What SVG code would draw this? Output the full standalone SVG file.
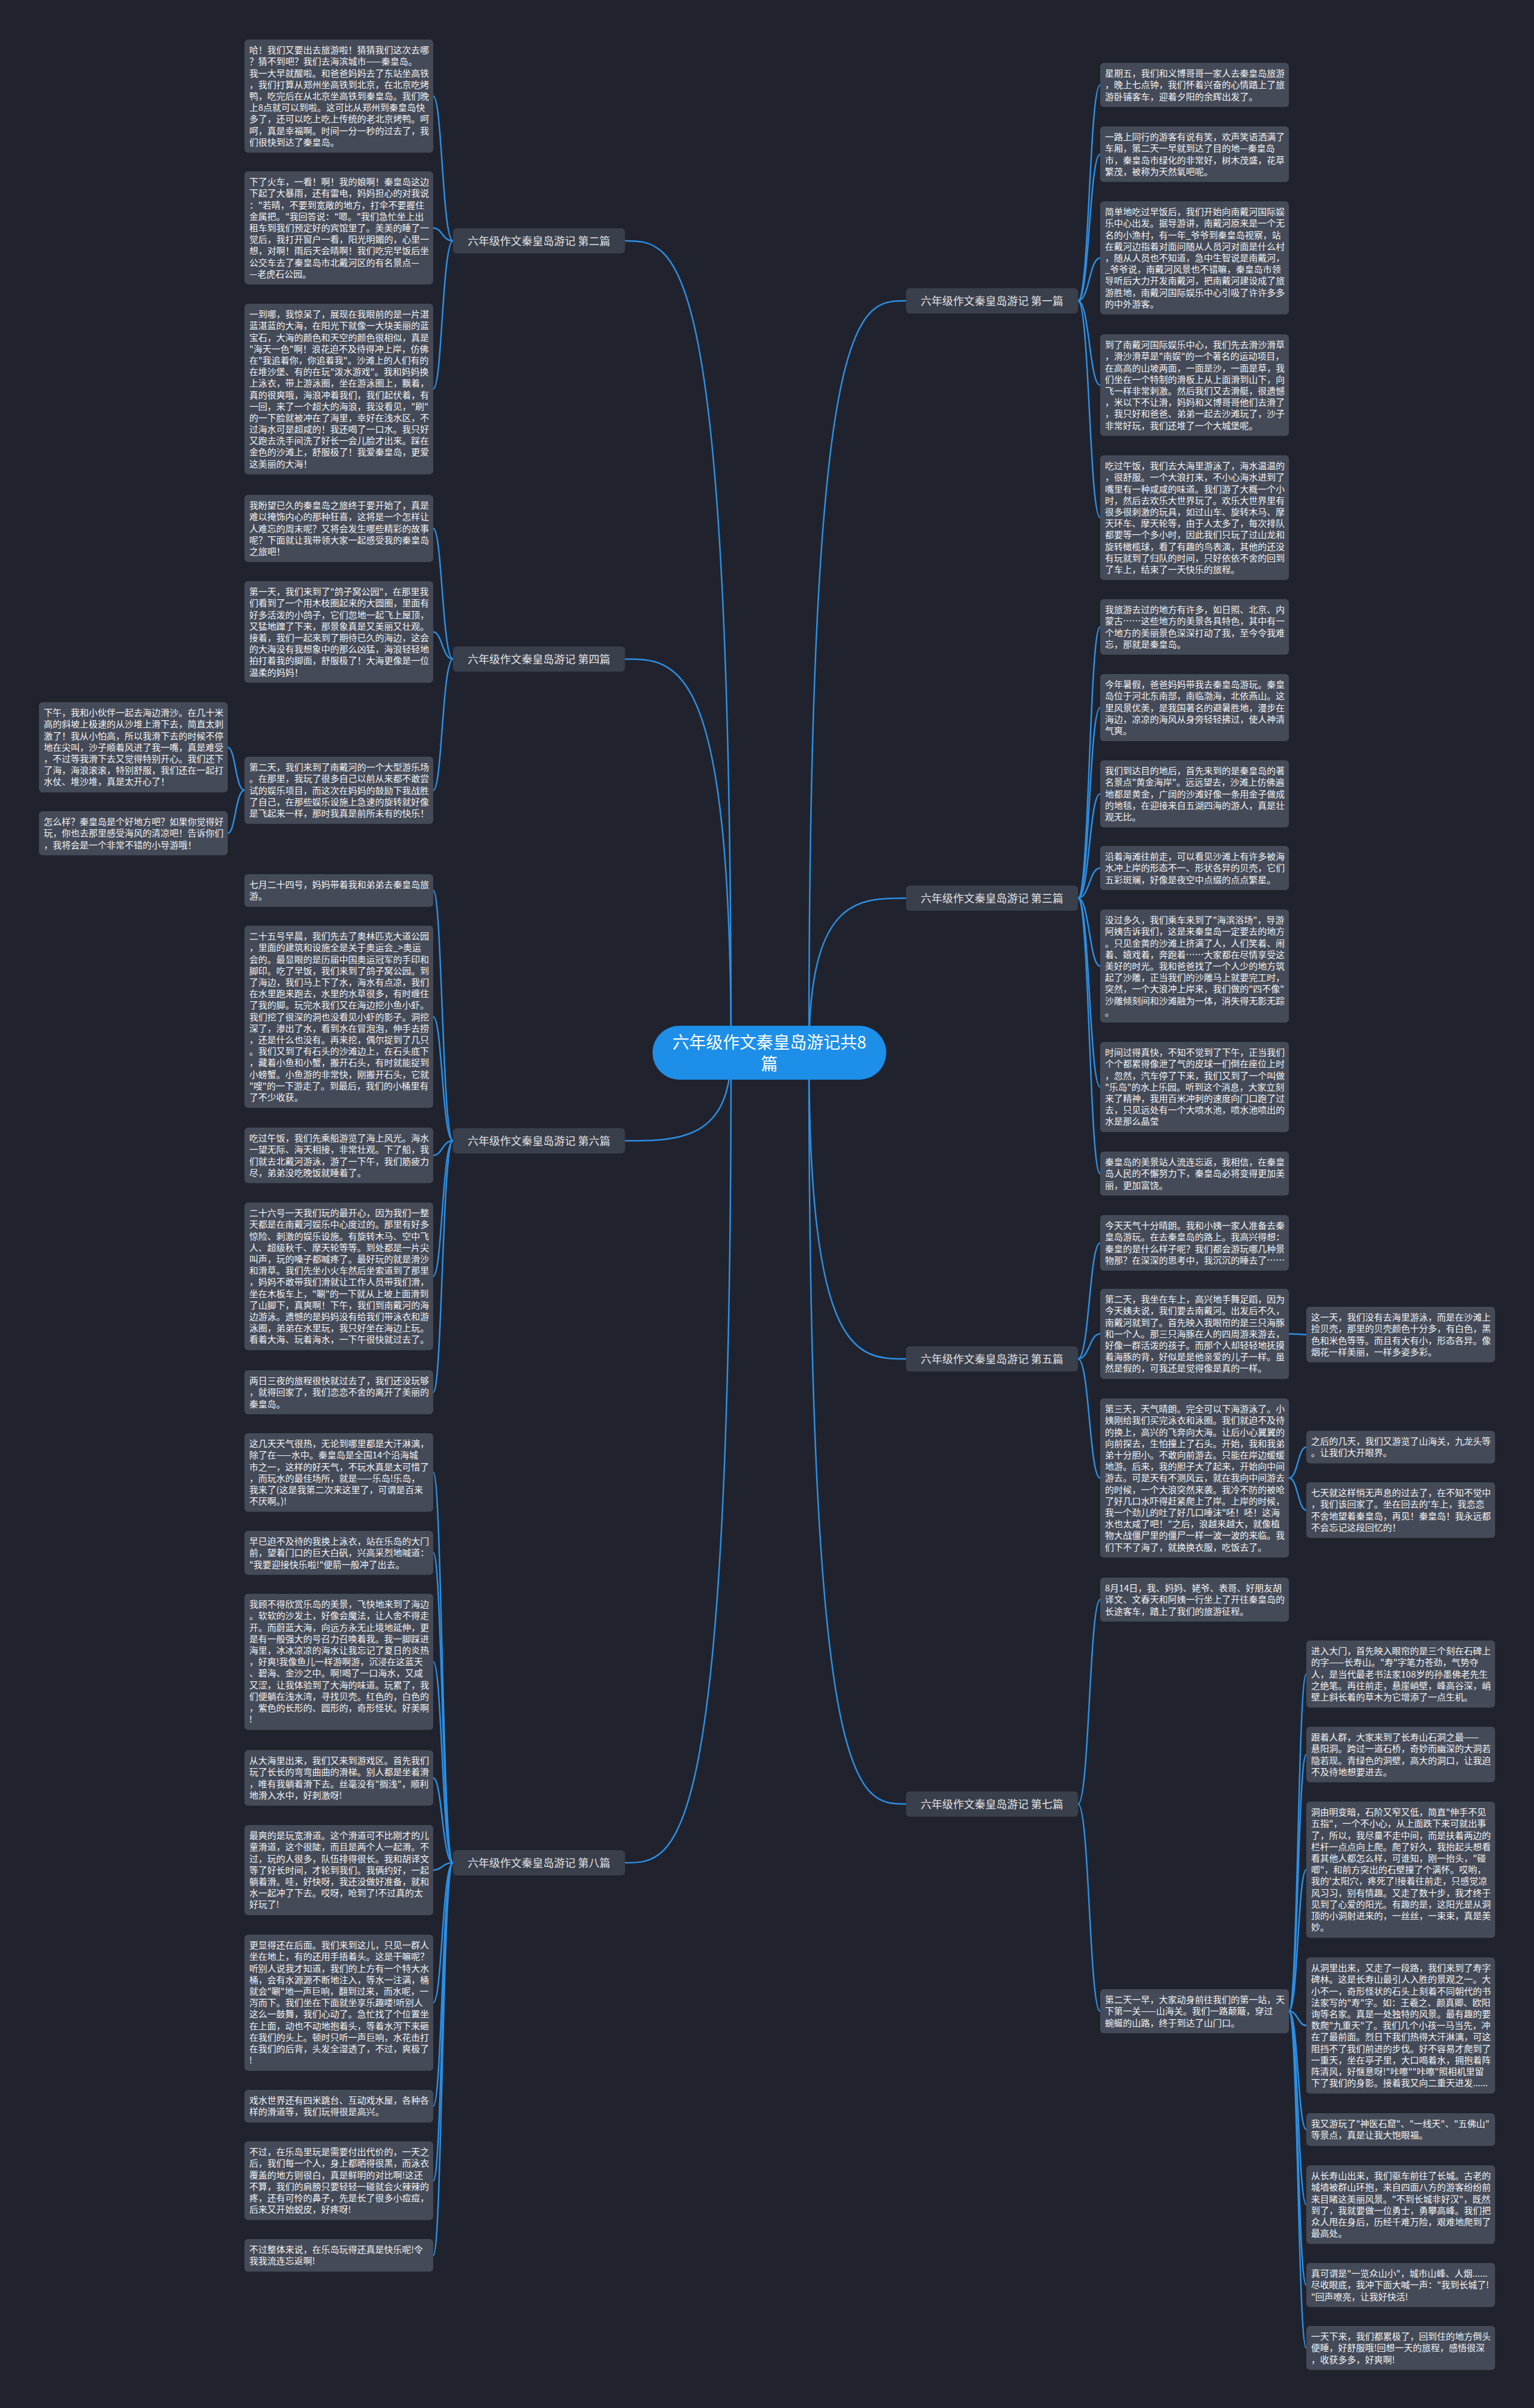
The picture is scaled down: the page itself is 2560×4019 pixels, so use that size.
<svg xmlns="http://www.w3.org/2000/svg" width="2560" height="4019" viewBox="0 0 2560 4019">
<style>
.bg{fill:#20232e}
.leaf rect{fill:#444a58}
.leaf text{font-family:"Noto Sans CJK SC","Noto Sans",sans-serif;font-size:15px;fill:#f4f4f4}
.l1 rect{fill:#3a3f4c}
.l1 text{font-family:"Noto Sans CJK SC","Noto Sans",sans-serif;font-size:18px;fill:#e4e4e4;text-anchor:middle}
.conn path{fill:none;stroke:#2b8fe5;stroke-width:2.5}
.root rect{fill:#1d8fe9}
.root text{font-family:"Noto Sans CJK SC","Noto Sans",sans-serif;font-size:28px;fill:#ffffff;text-anchor:middle}
</style>
<rect class="bg" x="0" y="0" width="2560" height="4019"/>
<g id="connectors" class="conn">
<path d="M1220 1757 C1220 402 1131 402 1043 402"/>
<path d="M1220 1757 C1220 1100 1131 1100 1043 1100"/>
<path d="M1220 1757 C1220 1904 1131 1904 1043 1904"/>
<path d="M1220 1757 C1220 3109 1131 3109 1043 3109"/>
<path d="M1350 1757 C1350 502 1431 502 1512 502"/>
<path d="M1350 1757 C1350 1499 1431 1499 1512 1499"/>
<path d="M1350 1757 C1350 2268 1431 2268 1512 2268"/>
<path d="M1350 1757 C1350 3011 1431 3011 1512 3011"/>
<path d="M756 402 C738 402 738 160.4 723 160.4"/>
<path d="M756 402 C738 402 738 380.4 723 380.4"/>
<path d="M756 402 C738 402 738 649.4 723 649.4"/>
<path d="M756 1100 C738 1100 738 882 723 882"/>
<path d="M756 1100 C738 1100 738 1054.8 723 1054.8"/>
<path d="M756 1100 C738 1100 738 1319 723 1319"/>
<path d="M408 1319 C393 1319 393 1247.2 380 1247.2"/>
<path d="M408 1319 C393 1319 393 1390.8 380 1390.8"/>
<path d="M756 1904 C738 1904 738 1486.2 723 1486.2"/>
<path d="M756 1904 C738 1904 738 1697 723 1697"/>
<path d="M756 1904 C738 1904 738 1928.4 723 1928.4"/>
<path d="M756 1904 C738 1904 738 2130.2 723 2130.2"/>
<path d="M756 1904 C738 1904 738 2323.8 723 2323.8"/>
<path d="M756 3109 C738 3109 738 2457.6 723 2457.6"/>
<path d="M756 3109 C738 3109 738 2591.8 723 2591.8"/>
<path d="M756 3109 C738 3109 738 2773.6 723 2773.6"/>
<path d="M756 3109 C738 3109 738 2967.4 723 2967.4"/>
<path d="M756 3109 C738 3109 738 3121.2 723 3121.2"/>
<path d="M756 3109 C738 3109 738 3342.6 723 3342.6"/>
<path d="M756 3109 C738 3109 738 3515.2 723 3515.2"/>
<path d="M756 3109 C738 3109 738 3639.6 723 3639.6"/>
<path d="M756 3109 C738 3109 738 3764.2 723 3764.2"/>
<path d="M1799 502 C1818 502 1818 141.8 1836 141.8"/>
<path d="M1799 502 C1818 502 1818 257.4 1836 257.4"/>
<path d="M1799 502 C1818 502 1818 430.4 1836 430.4"/>
<path d="M1799 502 C1818 502 1818 642.8 1836 642.8"/>
<path d="M1799 502 C1818 502 1818 864 1836 864"/>
<path d="M1799 1499 C1818 1499 1818 1046.4 1836 1046.4"/>
<path d="M1799 1499 C1818 1499 1818 1181 1836 1181"/>
<path d="M1799 1499 C1818 1499 1818 1325 1836 1325"/>
<path d="M1799 1499 C1818 1499 1818 1448.8 1836 1448.8"/>
<path d="M1799 1499 C1818 1499 1818 1612.4 1836 1612.4"/>
<path d="M1799 1499 C1818 1499 1818 1814.2 1836 1814.2"/>
<path d="M1799 1499 C1818 1499 1818 1958.8 1836 1958.8"/>
<path d="M1799 2268 C1818 2268 1818 2074.4 1836 2074.4"/>
<path d="M1799 2268 C1818 2268 1818 2226.2 1836 2226.2"/>
<path d="M1799 2268 C1818 2268 1818 2466.8 1836 2466.8"/>
<path d="M1799 3011 C1818 3011 1818 2669.8 1836 2669.8"/>
<path d="M1799 3011 C1818 3011 1818 3356.8 1836 3356.8"/>
<path d="M2151 2226.2 C2166 2226.2 2166 2227.4 2180 2227.4"/>
<path d="M2151 2466.8 C2166 2466.8 2166 2415.2 2180 2415.2"/>
<path d="M2151 2466.8 C2166 2466.8 2166 2520.4 2180 2520.4"/>
<path d="M2151 3356.8 C2166 3356.8 2166 2794 2180 2794"/>
<path d="M2151 3356.8 C2166 3356.8 2166 2928.4 2180 2928.4"/>
<path d="M2151 3356.8 C2166 3356.8 2166 3120.6 2180 3120.6"/>
<path d="M2151 3356.8 C2166 3356.8 2166 3380.6 2180 3380.6"/>
<path d="M2151 3356.8 C2166 3356.8 2166 3554.2 2180 3554.2"/>
<path d="M2151 3356.8 C2166 3356.8 2166 3679.6 2180 3679.6"/>
<path d="M2151 3356.8 C2166 3356.8 2166 3813.8 2180 3813.8"/>
<path d="M2151 3356.8 C2166 3356.8 2166 3918.8 2180 3918.8"/>
</g>
<g id="root" class="root"><rect x="1089" y="1712" width="390" height="90" rx="45"/><text x="1284" y="1749.6">六年级作文秦皇岛游记共8<tspan x="1284" dy="36">篇</tspan></text></g>
<g id="b2" class="l1"><rect x="756" y="381" width="287" height="42" rx="6"/><text x="899.5" y="408.5">六年级作文秦皇岛游记 第二篇</text></g>
<g id="b4" class="l1"><rect x="756" y="1079" width="287" height="42" rx="6"/><text x="899.5" y="1106.5">六年级作文秦皇岛游记 第四篇</text></g>
<g id="b6" class="l1"><rect x="756" y="1883" width="287" height="42" rx="6"/><text x="899.5" y="1910.5">六年级作文秦皇岛游记 第六篇</text></g>
<g id="b8" class="l1"><rect x="756" y="3088" width="287" height="42" rx="6"/><text x="899.5" y="3115.5">六年级作文秦皇岛游记 第八篇</text></g>
<g id="b1" class="l1"><rect x="1512" y="481" width="287" height="42" rx="6"/><text x="1655.5" y="508.5">六年级作文秦皇岛游记 第一篇</text></g>
<g id="b3" class="l1"><rect x="1512" y="1478" width="287" height="42" rx="6"/><text x="1655.5" y="1505.5">六年级作文秦皇岛游记 第三篇</text></g>
<g id="b5" class="l1"><rect x="1512" y="2247" width="287" height="42" rx="6"/><text x="1655.5" y="2274.5">六年级作文秦皇岛游记 第五篇</text></g>
<g id="b7" class="l1"><rect x="1512" y="2990" width="287" height="42" rx="6"/><text x="1655.5" y="3017.5">六年级作文秦皇岛游记 第七篇</text></g>

<g id="a1" class="leaf"><rect x="408" y="66" width="315" height="188.8" rx="6"/><text x="416" y="89.1"><tspan x="416">哈！我们又要出去旅游啦！猜猜我们这次去哪</tspan><tspan x="416" dy="19.2">？猜不到吧？我们去海滨城市——秦皇岛。</tspan><tspan x="416" dy="19.2">我一大早就醒啦。和爸爸妈妈去了东站坐高铁</tspan><tspan x="416" dy="19.2">，我们打算从郑州坐高铁到北京，在北京吃烤</tspan><tspan x="416" dy="19.2">鸭，吃完后在从北京坐高铁到秦皇岛。我们晚</tspan><tspan x="416" dy="19.2">上8点就可以到啦。这可比从郑州到秦皇岛快</tspan><tspan x="416" dy="19.2">多了，还可以吃上吃上传统的老北京烤鸭。呵</tspan><tspan x="416" dy="19.2">呵，真是幸福啊。时间一分一秒的过去了，我</tspan><tspan x="416" dy="19.2">们很快到达了秦皇岛。</tspan></text></g>
<g id="a2" class="leaf"><rect x="408" y="286" width="315" height="188.8" rx="6"/><text x="416" y="309.1"><tspan x="416">下了火车，一看！啊！我的娘啊！秦皇岛这边</tspan><tspan x="416" dy="19.2">下起了大暴雨，还有雷电，妈妈担心的对我说</tspan><tspan x="416" dy="19.2">："若晴，不要到宽敞的地方，打伞不要握住</tspan><tspan x="416" dy="19.2">金属把。"我回答说："嗯。"我们急忙坐上出</tspan><tspan x="416" dy="19.2">租车到我们预定好的宾馆里了。美美的睡了一</tspan><tspan x="416" dy="19.2">觉后，我打开窗户一看，阳光明媚的，心里一</tspan><tspan x="416" dy="19.2">想，对啊！雨后天会晴啊！我们吃完早饭后坐</tspan><tspan x="416" dy="19.2">公交车去了秦皇岛市北戴河区的有名景点—</tspan><tspan x="416" dy="19.2">—老虎石公园。</tspan></text></g>
<g id="a3" class="leaf"><rect x="408" y="507" width="315" height="284.8" rx="6"/><text x="416" y="530.1"><tspan x="416">一到哪，我惊呆了，展现在我眼前的是一片湛</tspan><tspan x="416" dy="19.2">蓝湛蓝的大海，在阳光下就像一大块美丽的蓝</tspan><tspan x="416" dy="19.2">宝石，大海的颜色和天空的颜色很相似，真是</tspan><tspan x="416" dy="19.2">"海天一色"啊！浪花迫不及待得冲上岸，仿佛</tspan><tspan x="416" dy="19.2">在"我追着你，你追着我"。沙滩上的人们有的</tspan><tspan x="416" dy="19.2">在堆沙堡、有的在玩"泼水游戏"。我和妈妈换</tspan><tspan x="416" dy="19.2">上泳衣，带上游泳圈，坐在游泳圈上，飘着，</tspan><tspan x="416" dy="19.2">真的很爽哦，海浪冲着我们，我们起伏着，有</tspan><tspan x="416" dy="19.2">一回，来了一个超大的海浪，我没看见，"刷"</tspan><tspan x="416" dy="19.2">的一下脸就被冲在了海里，幸好在浅水区，不</tspan><tspan x="416" dy="19.2">过海水可是超咸的！我还喝了一口水。我只好</tspan><tspan x="416" dy="19.2">又跑去洗手间洗了好长一会儿脸才出来。踩在</tspan><tspan x="416" dy="19.2">金色的沙滩上，舒服极了！我爱秦皇岛，更爱</tspan><tspan x="416" dy="19.2">这美丽的大海！</tspan></text></g>
<g id="b4c1" class="leaf"><rect x="408" y="826" width="315" height="112" rx="6"/><text x="416" y="849.1"><tspan x="416">我盼望已久的秦皇岛之旅终于要开始了，真是</tspan><tspan x="416" dy="19.2">难以掩饰内心的那种狂喜，这将是一个怎样让</tspan><tspan x="416" dy="19.2">人难忘的周末呢？又将会发生哪些精彩的故事</tspan><tspan x="416" dy="19.2">呢？下面就让我带领大家一起感受我的秦皇岛</tspan><tspan x="416" dy="19.2">之旅吧！</tspan></text></g>
<g id="b4c2" class="leaf"><rect x="408" y="970" width="315" height="169.6" rx="6"/><text x="416" y="993.1"><tspan x="416">第一天，我们来到了"鸽子窝公园"，在那里我</tspan><tspan x="416" dy="19.2">们看到了一个用木枝圈起来的大圆圈，里面有</tspan><tspan x="416" dy="19.2">好多活泼的小鸽子，它们忽地一起飞上屋顶，</tspan><tspan x="416" dy="19.2">又猛地蹿了下来，那景象真是又美丽又壮观。</tspan><tspan x="416" dy="19.2">接着，我们一起来到了期待已久的海边，这会</tspan><tspan x="416" dy="19.2">的大海没有我想象中的那么凶猛，海浪轻轻地</tspan><tspan x="416" dy="19.2">拍打着我的脚面，舒服极了！大海更像是一位</tspan><tspan x="416" dy="19.2">温柔的妈妈！</tspan></text></g>
<g id="b4c3" class="leaf"><rect x="408" y="1263" width="315" height="112" rx="6"/><text x="416" y="1286.1"><tspan x="416">第二天，我们来到了南戴河的一个大型游乐场</tspan><tspan x="416" dy="19.2">。在那里，我玩了很多自己以前从来都不敢尝</tspan><tspan x="416" dy="19.2">试的娱乐项目，而这次在妈妈的鼓励下我战胜</tspan><tspan x="416" dy="19.2">了自己，在那些娱乐设施上急速的旋转就好像</tspan><tspan x="416" dy="19.2">是飞起来一样，那时我真是前所未有的快乐！</tspan></text></g>
<g id="e1" class="leaf"><rect x="65" y="1172" width="315" height="150.4" rx="6"/><text x="73" y="1195.1"><tspan x="73">下午，我和小伙伴一起去海边滑沙。在几十米</tspan><tspan x="73" dy="19.2">高的斜坡上极速的从沙堆上滑下去，简直太刺</tspan><tspan x="73" dy="19.2">激了！我从小怕高，所以我滑下去的时候不停</tspan><tspan x="73" dy="19.2">地在尖叫，沙子顺着风进了我一嘴，真是难受</tspan><tspan x="73" dy="19.2">，不过等我滑下去又觉得特别开心。我们还下</tspan><tspan x="73" dy="19.2">了海，海浪滚滚，特别舒服，我们还在一起打</tspan><tspan x="73" dy="19.2">水仗、堆沙堆，真是太开心了！</tspan></text></g>
<g id="e2" class="leaf"><rect x="65" y="1354" width="315" height="73.6" rx="6"/><text x="73" y="1377.1"><tspan x="73">怎么样？秦皇岛是个好地方吧？如果你觉得好</tspan><tspan x="73" dy="19.2">玩，你也去那里感受海风的清凉吧！告诉你们</tspan><tspan x="73" dy="19.2">，我将会是一个非常不错的小导游哦！</tspan></text></g>
<g id="c1" class="leaf"><rect x="408" y="1459" width="315" height="54.4" rx="6"/><text x="416" y="1482.1"><tspan x="416">七月二十四号，妈妈带着我和弟弟去秦皇岛旅</tspan><tspan x="416" dy="19.2">游。</tspan></text></g>
<g id="c2" class="leaf"><rect x="408" y="1545" width="315" height="304" rx="6"/><text x="416" y="1568.1"><tspan x="416">二十五号早晨，我们先去了奥林匹克大道公园</tspan><tspan x="416" dy="19.2">，里面的建筑和设施全是关于奥运会_&gt;奥运</tspan><tspan x="416" dy="19.2">会的。最显眼的是历届中国奥运冠军的手印和</tspan><tspan x="416" dy="19.2">脚印。吃了早饭，我们来到了鸽子窝公园。到</tspan><tspan x="416" dy="19.2">了海边，我们马上下了水，海水有点凉，我们</tspan><tspan x="416" dy="19.2">在水里跑来跑去，水里的水草很多，有时缠住</tspan><tspan x="416" dy="19.2">了我的脚。玩完水我们又在海边挖小鱼小虾。</tspan><tspan x="416" dy="19.2">我们挖了很深的洞也没看见小虾的影子。洞挖</tspan><tspan x="416" dy="19.2">深了，渗出了水，看到水在冒泡泡，伸手去捞</tspan><tspan x="416" dy="19.2">，还是什么也没有。再来挖，偶尔捉到了几只</tspan><tspan x="416" dy="19.2">。我们又到了有石头的沙滩边上，在石头底下</tspan><tspan x="416" dy="19.2">，藏着小鱼和小蟹，搬开石头，有时就能捉到</tspan><tspan x="416" dy="19.2">小螃蟹。小鱼游的非常快，刚搬开石头，它就</tspan><tspan x="416" dy="19.2">"嗖"的一下游走了。到最后，我们的小桶里有</tspan><tspan x="416" dy="19.2">了不少收获。</tspan></text></g>
<g id="c3" class="leaf"><rect x="408" y="1882" width="315" height="92.8" rx="6"/><text x="416" y="1905.1"><tspan x="416">吃过午饭，我们先乘船游览了海上风光。海水</tspan><tspan x="416" dy="19.2">一望无际、海天相接，非常壮观。下了船，我</tspan><tspan x="416" dy="19.2">们就去北戴河游泳，游了一下午，我们筋疲力</tspan><tspan x="416" dy="19.2">尽，弟弟没吃晚饭就睡着了。</tspan></text></g>
<g id="c4" class="leaf"><rect x="408" y="2007" width="315" height="246.4" rx="6"/><text x="416" y="2030.1"><tspan x="416">二十六号一天我们玩的最开心，因为我们一整</tspan><tspan x="416" dy="19.2">天都是在南戴河娱乐中心度过的。那里有好多</tspan><tspan x="416" dy="19.2">惊险、刺激的娱乐设施。有旋转木马、空中飞</tspan><tspan x="416" dy="19.2">人、超级秋千、摩天轮等等。到处都是一片尖</tspan><tspan x="416" dy="19.2">叫声，玩的嗓子都喊疼了。最好玩的就是滑沙</tspan><tspan x="416" dy="19.2">和滑草。我们先坐小火车然后坐索道到了那里</tspan><tspan x="416" dy="19.2">，妈妈不敢带我们滑就让工作人员带我们滑，</tspan><tspan x="416" dy="19.2">坐在木板车上，"唰"的一下就从上坡上面滑到</tspan><tspan x="416" dy="19.2">了山脚下，真爽啊！下午，我们到南戴河的海</tspan><tspan x="416" dy="19.2">边游泳。遗憾的是妈妈没有给我们带泳衣和游</tspan><tspan x="416" dy="19.2">泳圈，弟弟在水里玩，我只好坐在海边上玩。</tspan><tspan x="416" dy="19.2">看着大海、玩着海水，一下午很快就过去了。</tspan></text></g>
<g id="c5" class="leaf"><rect x="408" y="2287" width="315" height="73.6" rx="6"/><text x="416" y="2310.1"><tspan x="416">两日三夜的旅程很快就过去了，我们还没玩够</tspan><tspan x="416" dy="19.2">，就得回家了，我们恋恋不舍的离开了美丽的</tspan><tspan x="416" dy="19.2">秦皇岛。</tspan></text></g>
<g id="d1" class="leaf"><rect x="408" y="2392" width="315" height="131.2" rx="6"/><text x="416" y="2415.1"><tspan x="416">这几天天气很热，无论到哪里都是大汗淋漓，</tspan><tspan x="416" dy="19.2">除了在——水中。秦皇岛是全国14个沿海城</tspan><tspan x="416" dy="19.2">市之一，这样的好天气，不玩水真是太可惜了</tspan><tspan x="416" dy="19.2">，而玩水的最佳场所，就是——乐岛!乐岛，</tspan><tspan x="416" dy="19.2">我来了(这是我第二次来这里了，可谓是百来</tspan><tspan x="416" dy="19.2">不厌啊。)!</tspan></text></g>
<g id="d2" class="leaf"><rect x="408" y="2555" width="315" height="73.6" rx="6"/><text x="416" y="2578.1"><tspan x="416">早已迫不及待的我换上泳衣，站在乐岛的大门</tspan><tspan x="416" dy="19.2">前，望着门口的巨大白矾，兴高采烈地喊道：</tspan><tspan x="416" dy="19.2">"我要迎接快乐啦!"便箭一般冲了出去。</tspan></text></g>
<g id="d3" class="leaf"><rect x="408" y="2660" width="315" height="227.2" rx="6"/><text x="416" y="2683.1"><tspan x="416">我顾不得欣赏乐岛的美景，飞快地来到了海边</tspan><tspan x="416" dy="19.2">。软软的沙发土，好像会魔法，让人舍不得走</tspan><tspan x="416" dy="19.2">开。而蔚蓝大海，向远方永无止境地延伸，更</tspan><tspan x="416" dy="19.2">是有一般强大的号召力召唤着我。我一脚踩进</tspan><tspan x="416" dy="19.2">海里，冰冰凉凉的海水让我忘记了夏日的炎热</tspan><tspan x="416" dy="19.2">，好爽!我像鱼儿一样游啊游，沉浸在这蓝天</tspan><tspan x="416" dy="19.2">、碧海、金沙之中。啊!喝了一口海水，又咸</tspan><tspan x="416" dy="19.2">又涩，让我体验到了大海的味道。玩累了，我</tspan><tspan x="416" dy="19.2">们便躺在浅水湾，寻找贝壳。红色的，白色的</tspan><tspan x="416" dy="19.2">，紫色的长形的、圆形的，奇形怪状。好美啊</tspan><tspan x="416" dy="19.2">!</tspan></text></g>
<g id="d4" class="leaf"><rect x="408" y="2921" width="315" height="92.8" rx="6"/><text x="416" y="2944.1"><tspan x="416">从大海里出来，我们又来到游戏区。首先我们</tspan><tspan x="416" dy="19.2">玩了长长的弯弯曲曲的滑梯。别人都是坐着滑</tspan><tspan x="416" dy="19.2">，唯有我躺着滑下去。丝毫没有"搁浅"，顺利</tspan><tspan x="416" dy="19.2">地滑入水中，好刺激呀!</tspan></text></g>
<g id="d5" class="leaf"><rect x="408" y="3046" width="315" height="150.4" rx="6"/><text x="416" y="3069.1"><tspan x="416">最爽的是玩宽滑道。这个滑道可不比刚才的儿</tspan><tspan x="416" dy="19.2">童滑道，这个很陡，而且是两个人一起滑。不</tspan><tspan x="416" dy="19.2">过，玩的人很多，队伍排得很长。我和胡译文</tspan><tspan x="416" dy="19.2">等了好长时间，才轮到我们。我俩约好，一起</tspan><tspan x="416" dy="19.2">躺着滑。哇，好快呀，我还没做好准备，就和</tspan><tspan x="416" dy="19.2">水一起冲了下去。哎呀，呛到了!不过真的太</tspan><tspan x="416" dy="19.2">好玩了!</tspan></text></g>
<g id="d6" class="leaf"><rect x="408" y="3229" width="315" height="227.2" rx="6"/><text x="416" y="3252.1"><tspan x="416">更显得还在后面。我们来到这儿，只见一群人</tspan><tspan x="416" dy="19.2">坐在地上，有的还用手捂着头。这是干嘛呢？</tspan><tspan x="416" dy="19.2">听别人说我才知道，我们的上方有一个特大水</tspan><tspan x="416" dy="19.2">桶，会有水源源不断地注入，等水一注满，桶</tspan><tspan x="416" dy="19.2">就会"唰"地一声巨响，翻到过来，而水呢，一</tspan><tspan x="416" dy="19.2">泻而下。我们坐在下面就坐享乐趣喽!听别人</tspan><tspan x="416" dy="19.2">这么一鼓舞，我们心动了。急忙找了个位置坐</tspan><tspan x="416" dy="19.2">在上面，动也不动地抱着头，等着水泻下来砸</tspan><tspan x="416" dy="19.2">在我们的头上。顿时只听一声巨响，水花击打</tspan><tspan x="416" dy="19.2">在我们的后背，头发全湿透了，不过，爽极了</tspan><tspan x="416" dy="19.2">!</tspan></text></g>
<g id="d7" class="leaf"><rect x="408" y="3488" width="315" height="54.4" rx="6"/><text x="416" y="3511.1"><tspan x="416">戏水世界还有四米跳台、互动戏水屋，各种各</tspan><tspan x="416" dy="19.2">样的滑道等，我们玩得很是高兴。</tspan></text></g>
<g id="d8" class="leaf"><rect x="408" y="3574" width="315" height="131.2" rx="6"/><text x="416" y="3597.1"><tspan x="416">不过，在乐岛里玩是需要付出代价的，一天之</tspan><tspan x="416" dy="19.2">后，我们每一个人，身上都晒得很黑，而泳衣</tspan><tspan x="416" dy="19.2">覆盖的地方则很白，真是鲜明的对比啊!这还</tspan><tspan x="416" dy="19.2">不算，我们的肩膀只要轻轻一碰就会火辣辣的</tspan><tspan x="416" dy="19.2">疼，还有可怜的鼻子，先是长了很多小痘痘，</tspan><tspan x="416" dy="19.2">后来又开始蜕皮，好疼呀!</tspan></text></g>
<g id="d9" class="leaf"><rect x="408" y="3737" width="315" height="54.4" rx="6"/><text x="416" y="3760.1"><tspan x="416">不过整体来说，在乐岛玩得还真是快乐呢!令</tspan><tspan x="416" dy="19.2">我我流连忘返啊!</tspan></text></g>

<g id="r1" class="leaf"><rect x="1836" y="105" width="315" height="73.6" rx="6"/><text x="1844" y="128.1"><tspan x="1844">星期五，我们和义博哥哥一家人去秦皇岛旅游</tspan><tspan x="1844" dy="19.2">，晚上七点钟，我们怀着兴奋的心情踏上了旅</tspan><tspan x="1844" dy="19.2">游卧铺客车，迎着夕阳的余辉出发了。</tspan></text></g>
<g id="r2" class="leaf"><rect x="1836" y="211" width="315" height="92.8" rx="6"/><text x="1844" y="234.1"><tspan x="1844">一路上同行的游客有说有笑，欢声笑语洒满了</tspan><tspan x="1844" dy="19.2">车厢，第二天一早就到达了目的地—秦皇岛</tspan><tspan x="1844" dy="19.2">市，秦皇岛市绿化的非常好，树木茂盛，花草</tspan><tspan x="1844" dy="19.2">繁茂，被称为天然氧吧呢。</tspan></text></g>
<g id="r3" class="leaf"><rect x="1836" y="336" width="315" height="188.8" rx="6"/><text x="1844" y="359.1"><tspan x="1844">简单地吃过早饭后，我们开始向南戴河国际娱</tspan><tspan x="1844" dy="19.2">乐中心出发。据导游讲，南戴河原来是一个无</tspan><tspan x="1844" dy="19.2">名的小渔村，有一年_爷爷到秦皇岛视察，站</tspan><tspan x="1844" dy="19.2">在戴河边指着对面问随从人员河对面是什么村</tspan><tspan x="1844" dy="19.2">，随从人员也不知道，急中生智说是南戴河，</tspan><tspan x="1844" dy="19.2">_爷爷说，南戴河风景也不错嘛，秦皇岛市领</tspan><tspan x="1844" dy="19.2">导听后大力开发南戴河，把南戴河建设成了旅</tspan><tspan x="1844" dy="19.2">游胜地，南戴河国际娱乐中心引吸了许许多多</tspan><tspan x="1844" dy="19.2">的中外游客。</tspan></text></g>
<g id="r4" class="leaf"><rect x="1836" y="558" width="315" height="169.6" rx="6"/><text x="1844" y="581.1"><tspan x="1844">到了南戴河国际娱乐中心，我们先去滑沙滑草</tspan><tspan x="1844" dy="19.2">，滑沙滑草是"南娱"的一个著名的运动项目，</tspan><tspan x="1844" dy="19.2">在高高的山坡两面，一面是沙，一面是草，我</tspan><tspan x="1844" dy="19.2">们坐在一个特制的滑板上从上面滑到山下，向</tspan><tspan x="1844" dy="19.2">飞一样非常刺激。然后我们又去滑艇，很遗憾</tspan><tspan x="1844" dy="19.2">，米以下不让滑，妈妈和义博哥哥他们去滑了</tspan><tspan x="1844" dy="19.2">，我只好和爸爸、弟弟一起去沙滩玩了，沙子</tspan><tspan x="1844" dy="19.2">非常好玩，我们还堆了一个大城堡呢。</tspan></text></g>
<g id="r5" class="leaf"><rect x="1836" y="760" width="315" height="208" rx="6"/><text x="1844" y="783.1"><tspan x="1844">吃过午饭，我们去大海里游泳了，海水温温的</tspan><tspan x="1844" dy="19.2">，很舒服。一个大浪打来，不小心海水进到了</tspan><tspan x="1844" dy="19.2">嘴里有一种咸咸的味道。我们游了大概一个小</tspan><tspan x="1844" dy="19.2">时，然后去欢乐大世界玩了。欢乐大世界里有</tspan><tspan x="1844" dy="19.2">很多很刺激的玩具，如过山车、旋转木马、摩</tspan><tspan x="1844" dy="19.2">天环车、摩天轮等，由于人太多了，每次排队</tspan><tspan x="1844" dy="19.2">都要等一个多小时，因此我们只玩了过山龙和</tspan><tspan x="1844" dy="19.2">旋转橄榄球，看了有趣的鸟表演，其他的还没</tspan><tspan x="1844" dy="19.2">有玩就到了归队的时间，只好依依不舍的回到</tspan><tspan x="1844" dy="19.2">了车上，结束了一天快乐的旅程。</tspan></text></g>
<g id="r6" class="leaf"><rect x="1836" y="1000" width="315" height="92.8" rx="6"/><text x="1844" y="1023.1"><tspan x="1844">我旅游去过的地方有许多，如日照、北京、内</tspan><tspan x="1844" dy="19.2">蒙古……这些地方的美景各具特色，其中有一</tspan><tspan x="1844" dy="19.2">个地方的美丽景色深深打动了我，至今令我难</tspan><tspan x="1844" dy="19.2">忘，那就是秦皇岛。</tspan></text></g>
<g id="r7" class="leaf"><rect x="1836" y="1125" width="315" height="112" rx="6"/><text x="1844" y="1148.1"><tspan x="1844">今年暑假，爸爸妈妈带我去秦皇岛游玩。秦皇</tspan><tspan x="1844" dy="19.2">岛位于河北东南部，南临渤海，北依燕山。这</tspan><tspan x="1844" dy="19.2">里风景优美，是我国著名的避暑胜地，漫步在</tspan><tspan x="1844" dy="19.2">海边，凉凉的海风从身旁轻轻拂过，使人神清</tspan><tspan x="1844" dy="19.2">气爽。</tspan></text></g>
<g id="r8" class="leaf"><rect x="1836" y="1269" width="315" height="112" rx="6"/><text x="1844" y="1292.1"><tspan x="1844">我们到达目的地后，首先来到的是秦皇岛的著</tspan><tspan x="1844" dy="19.2">名景点"黄金海岸"。远远望去，沙滩上仿佛遍</tspan><tspan x="1844" dy="19.2">地都是黄金，广阔的沙滩好像一条用金子做成</tspan><tspan x="1844" dy="19.2">的地毯，在迎接来自五湖四海的游人，真是壮</tspan><tspan x="1844" dy="19.2">观无比。</tspan></text></g>
<g id="r9" class="leaf"><rect x="1836" y="1412" width="315" height="73.6" rx="6"/><text x="1844" y="1435.1"><tspan x="1844">沿着海滩往前走，可以看见沙滩上有许多被海</tspan><tspan x="1844" dy="19.2">水冲上岸的形态不一、形状各异的贝壳，它们</tspan><tspan x="1844" dy="19.2">五彩斑斓，好像是夜空中点缀的点点繁星。</tspan></text></g>
<g id="r10" class="leaf"><rect x="1836" y="1518" width="315" height="188.8" rx="6"/><text x="1844" y="1541.1"><tspan x="1844">没过多久，我们乘车来到了"海滨浴场"，导游</tspan><tspan x="1844" dy="19.2">阿姨告诉我们，这是来秦皇岛一定要去的地方</tspan><tspan x="1844" dy="19.2">。只见金黄的沙滩上挤满了人，人们笑着、闹</tspan><tspan x="1844" dy="19.2">着、嬉戏着，奔跑着……大家都在尽情享受这</tspan><tspan x="1844" dy="19.2">美好的时光。我和爸爸找了一个人少的地方筑</tspan><tspan x="1844" dy="19.2">起了沙雕，正当我们的沙雕马上就要完工时，</tspan><tspan x="1844" dy="19.2">突然，一个大浪冲上岸来，我们做的"四不像"</tspan><tspan x="1844" dy="19.2">沙雕倾刻间和沙滩融为一体，消失得无影无踪</tspan><tspan x="1844" dy="19.2">。</tspan></text></g>
<g id="r11" class="leaf"><rect x="1836" y="1739" width="315" height="150.4" rx="6"/><text x="1844" y="1762.1"><tspan x="1844">时间过得真快，不知不觉到了下午，正当我们</tspan><tspan x="1844" dy="19.2">个个都累得像泄了气的皮球一们倒在座位上时</tspan><tspan x="1844" dy="19.2">，忽然，汽车停了下来，我们又到了一个叫做</tspan><tspan x="1844" dy="19.2">"乐岛"的水上乐园。听到这个消息，大家立刻</tspan><tspan x="1844" dy="19.2">来了精神，我用百米冲刺的速度向门口跑了过</tspan><tspan x="1844" dy="19.2">去，只见远处有一个大喷水池，喷水池喷出的</tspan><tspan x="1844" dy="19.2">水是那么晶莹</tspan></text></g>
<g id="r12" class="leaf"><rect x="1836" y="1922" width="315" height="73.6" rx="6"/><text x="1844" y="1945.1"><tspan x="1844">秦皇岛的美景站人流连忘返，我相信，在秦皇</tspan><tspan x="1844" dy="19.2">岛人民的不懈努力下，秦皇岛必将变得更加美</tspan><tspan x="1844" dy="19.2">丽，更加富饶。</tspan></text></g>
<g id="r13" class="leaf"><rect x="1836" y="2028" width="315" height="92.8" rx="6"/><text x="1844" y="2051.1"><tspan x="1844">今天天气十分晴朗。我和小姨一家人准备去秦</tspan><tspan x="1844" dy="19.2">皇岛游玩。在去秦皇岛的路上。我高兴得想：</tspan><tspan x="1844" dy="19.2">秦皇的是什么样子呢？我们都会游玩哪几种景</tspan><tspan x="1844" dy="19.2">物那？在深深的思考中，我沉沉的睡去了……</tspan></text></g>
<g id="r14" class="leaf"><rect x="1836" y="2151" width="315" height="150.4" rx="6"/><text x="1844" y="2174.1"><tspan x="1844">第二天，我坐在车上，高兴地手舞足蹈，因为</tspan><tspan x="1844" dy="19.2">今天姨夫说，我们要去南戴河。出发后不久，</tspan><tspan x="1844" dy="19.2">南戴河就到了。首先映入我眼帘的是三只海豚</tspan><tspan x="1844" dy="19.2">和一个人。那三只海豚在人的四周游来游去，</tspan><tspan x="1844" dy="19.2">好像一群活泼的孩子。而那个人却轻轻地抚摸</tspan><tspan x="1844" dy="19.2">着海豚的背，好似是是他亲爱的儿子一样。虽</tspan><tspan x="1844" dy="19.2">然是假的，可我还是觉得像是真的一样。</tspan></text></g>
<g id="r15" class="leaf"><rect x="1836" y="2334" width="315" height="265.6" rx="6"/><text x="1844" y="2357.1"><tspan x="1844">第三天，天气晴朗。完全可以下海游泳了。小</tspan><tspan x="1844" dy="19.2">姨刚给我们买完泳衣和泳圈。我们就迫不及待</tspan><tspan x="1844" dy="19.2">的换上，高兴的飞奔向大海。让后小心翼翼的</tspan><tspan x="1844" dy="19.2">向前探去，生怕撞上了石头。开始，我和我弟</tspan><tspan x="1844" dy="19.2">弟十分胆小。不敢向前游去。只能在岸边缓缓</tspan><tspan x="1844" dy="19.2">地游。后来，我的胆子大了起来，开始向中间</tspan><tspan x="1844" dy="19.2">游去。可是天有不测风云，就在我向中间游去</tspan><tspan x="1844" dy="19.2">的时候，一个大浪突然来袭。我冷不防的被呛</tspan><tspan x="1844" dy="19.2">了好几口水吓得赶紧爬上了岸。上岸的时候，</tspan><tspan x="1844" dy="19.2">我一个劲儿的吐了好几口唾沫"呸！呸！这海</tspan><tspan x="1844" dy="19.2">水也太咸了吧！"之后，浪越来越大，就像植</tspan><tspan x="1844" dy="19.2">物大战僵尸里的僵尸一样一波一波的来临。我</tspan><tspan x="1844" dy="19.2">们下不了海了，就换换衣服，吃饭去了。</tspan></text></g>
<g id="r16" class="leaf"><rect x="1836" y="2633" width="315" height="73.6" rx="6"/><text x="1844" y="2656.1"><tspan x="1844">8月14日，我、妈妈、姥爷、表哥、好朋友胡</tspan><tspan x="1844" dy="19.2">译文、文春天和阿姨一行坐上了开往秦皇岛的</tspan><tspan x="1844" dy="19.2">长途客车，踏上了我们的旅游征程。</tspan></text></g>
<g id="r17" class="leaf"><rect x="1836" y="3320" width="315" height="73.6" rx="6"/><text x="1844" y="3343.1"><tspan x="1844">第二天一早，大家动身前往我们的第一站，天</tspan><tspan x="1844" dy="19.2">下第一关——山海关。我们一路颠簸，穿过</tspan><tspan x="1844" dy="19.2">蜿蜒的山路，终于到达了山门口。</tspan></text></g>

<g id="f1" class="leaf"><rect x="2180" y="2181" width="315" height="92.8" rx="6"/><text x="2188" y="2204.1"><tspan x="2188">这一天，我们没有去海里游泳，而是在沙滩上</tspan><tspan x="2188" dy="19.2">捡贝壳，那里的贝壳颜色十分多，有白色，黑</tspan><tspan x="2188" dy="19.2">色和米色等等。而且有大有小，形态各异。像</tspan><tspan x="2188" dy="19.2">烟花一样美丽，一样多姿多彩。</tspan></text></g>
<g id="f2" class="leaf"><rect x="2180" y="2388" width="315" height="54.4" rx="6"/><text x="2188" y="2411.1"><tspan x="2188">之后的几天，我们又游览了山海关，九龙头等</tspan><tspan x="2188" dy="19.2">。让我们大开眼界。</tspan></text></g>
<g id="f3" class="leaf"><rect x="2180" y="2474" width="315" height="92.8" rx="6"/><text x="2188" y="2497.1"><tspan x="2188">七天就这样悄无声息的过去了，在不知不觉中</tspan><tspan x="2188" dy="19.2">，我们该回家了。坐在回去的'车上，我恋恋</tspan><tspan x="2188" dy="19.2">不舍地望着秦皇岛，再见！秦皇岛！我永远都</tspan><tspan x="2188" dy="19.2">不会忘记这段回忆的！</tspan></text></g>
<g id="g1" class="leaf"><rect x="2180" y="2738" width="315" height="112" rx="6"/><text x="2188" y="2761.1"><tspan x="2188">进入大门，首先映入眼帘的是三个刻在石碑上</tspan><tspan x="2188" dy="19.2">的字——长寿山。"寿"字笔力苍劲，气势夺</tspan><tspan x="2188" dy="19.2">人，是当代最老书法家108岁的孙墨佛老先生</tspan><tspan x="2188" dy="19.2">之绝笔。再往前走，悬崖峭壁，峰高谷深，峭</tspan><tspan x="2188" dy="19.2">壁上斜长着的草木为它增添了一点生机。</tspan></text></g>
<g id="g2" class="leaf"><rect x="2180" y="2882" width="315" height="92.8" rx="6"/><text x="2188" y="2905.1"><tspan x="2188">跟着人群，大家来到了长寿山石洞之最——</tspan><tspan x="2188" dy="19.2">悬阳洞。跨过一道石桥，奇妙而幽深的大洞若</tspan><tspan x="2188" dy="19.2">隐若现。青绿色的洞壁，高大的洞口，让我迫</tspan><tspan x="2188" dy="19.2">不及待地想要进去。</tspan></text></g>
<g id="g3" class="leaf"><rect x="2180" y="3007" width="315" height="227.2" rx="6"/><text x="2188" y="3030.1"><tspan x="2188">洞由明变暗，石阶又窄又低，简直"伸手不见</tspan><tspan x="2188" dy="19.2">五指"，一个不小心，从上面跌下来可就出事</tspan><tspan x="2188" dy="19.2">了，所以，我尽量不走中间，而是扶着两边的</tspan><tspan x="2188" dy="19.2">栏杆一点点向上爬。爬了好久，我抬起头想看</tspan><tspan x="2188" dy="19.2">看其他人都怎么样，可谁知，刚一抬头，"碰</tspan><tspan x="2188" dy="19.2">唧"，和前方突出的石壁撞了个满怀。哎哟，</tspan><tspan x="2188" dy="19.2">我的'太阳穴，疼死了!接着往前走，只感觉凉</tspan><tspan x="2188" dy="19.2">风习习，别有情趣。又走了数十步，我才终于</tspan><tspan x="2188" dy="19.2">见到了心爱的阳光。有趣的是，这阳光是从洞</tspan><tspan x="2188" dy="19.2">顶的小洞射进来的，一丝丝，一束束，真是美</tspan><tspan x="2188" dy="19.2">妙。</tspan></text></g>
<g id="g4" class="leaf"><rect x="2180" y="3267" width="315" height="227.2" rx="6"/><text x="2188" y="3290.1"><tspan x="2188">从洞里出来，又走了一段路，我们来到了寿字</tspan><tspan x="2188" dy="19.2">碑林。这是长寿山最引人入胜的景观之一。大</tspan><tspan x="2188" dy="19.2">小不一，奇形怪状的石头上刻着不同朝代的书</tspan><tspan x="2188" dy="19.2">法家写的"寿"字。如：王羲之、颜真卿、欧阳</tspan><tspan x="2188" dy="19.2">询等名家。真是一处独特的风景。最有趣的要</tspan><tspan x="2188" dy="19.2">数爬"九重天"了。我们几个小孩一马当先，冲</tspan><tspan x="2188" dy="19.2">在了最前面。烈日下我们热得大汗淋漓，可这</tspan><tspan x="2188" dy="19.2">阻挡不了我们前进的步伐。好不容易才爬到了</tspan><tspan x="2188" dy="19.2">一重天，坐在亭子里，大口喝着水，拥抱着阵</tspan><tspan x="2188" dy="19.2">阵清风，好惬意呀!"咔嚓""咔嚓"照相机里留</tspan><tspan x="2188" dy="19.2">下了我们的身影。接着我又向二重天进发......</tspan></text></g>
<g id="g5" class="leaf"><rect x="2180" y="3527" width="315" height="54.4" rx="6"/><text x="2188" y="3550.1"><tspan x="2188">我又游玩了"神医石窟"、"一线天"、"五佛山"</tspan><tspan x="2188" dy="19.2">等景点，真是让我大饱眼福。</tspan></text></g>
<g id="g6" class="leaf"><rect x="2180" y="3614" width="315" height="131.2" rx="6"/><text x="2188" y="3637.1"><tspan x="2188">从长寿山出来，我们驱车前往了长城。古老的</tspan><tspan x="2188" dy="19.2">城墙被群山环抱，来自四面八方的游客纷纷前</tspan><tspan x="2188" dy="19.2">来目睹这美丽风景。"不到长城非好汉"，既然</tspan><tspan x="2188" dy="19.2">到了，我就要做一位勇士，勇攀高峰。我们把</tspan><tspan x="2188" dy="19.2">众人甩在身后，历经千难万险，艰难地爬到了</tspan><tspan x="2188" dy="19.2">最高处。</tspan></text></g>
<g id="g7" class="leaf"><rect x="2180" y="3777" width="315" height="73.6" rx="6"/><text x="2188" y="3800.1"><tspan x="2188">真可谓是"一览众山小"，城市山峰、人烟......</tspan><tspan x="2188" dy="19.2">尽收眼底，我冲下面大喊一声："我到长城了!</tspan><tspan x="2188" dy="19.2">"回声嘹亮，让我好快活!</tspan></text></g>
<g id="g8" class="leaf"><rect x="2180" y="3882" width="315" height="73.6" rx="6"/><text x="2188" y="3905.1"><tspan x="2188">一天下来，我们都累极了，回到住的地方倒头</tspan><tspan x="2188" dy="19.2">便睡，好舒服哦!回想一天的旅程，感悟很深</tspan><tspan x="2188" dy="19.2">，收获多多，好爽啊!</tspan></text></g>
</svg>
